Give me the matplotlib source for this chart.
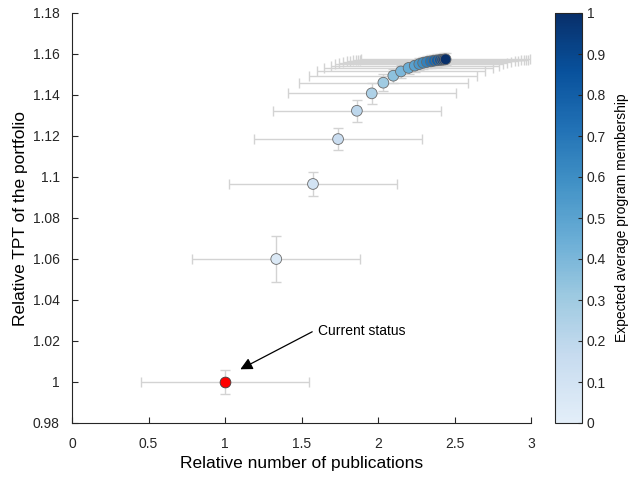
import numpy as np
import matplotlib
matplotlib.use("Agg")
import matplotlib.pyplot as plt
from matplotlib.colors import ListedColormap, Normalize
from matplotlib.cm import ScalarMappable

plt.rcParams['font.family'] = ['Liberation Sans', 'DejaVu Sans']

# current status point
cur_x = 1.0
cur_y = 1.0
cur_xerr = 0.55
cur_yerr = 0.006

# portfolio points (membership increasing)
membership = [0.05, 0.10, 0.15, 0.20, 0.25, 0.30, 0.35, 0.40, 0.45, 0.50,
              0.55, 0.60, 0.65, 0.70, 0.75, 0.80, 0.85, 0.90, 0.95, 1.00]
pub = [1.335, 1.575, 1.739, 1.862, 1.959, 2.035, 2.100, 2.150, 2.200, 2.240,
       2.270, 2.295, 2.320, 2.345, 2.365, 2.385, 2.405, 2.420, 2.432, 2.442]
tpt = [1.0600, 1.0966, 1.1185, 1.1323, 1.1408, 1.1460, 1.1494, 1.1515, 1.1532, 1.1543,
       1.1551, 1.1557, 1.1561, 1.1564, 1.1567, 1.1569, 1.1571, 1.1572, 1.1573, 1.1574]
pub_err = [0.55] * 20
tpt_err = [0.011, 0.006, 0.0055, 0.0053, 0.005, 0.004, 0.0035, 0.003, 0.003, 0.003,
           0.003, 0.003, 0.003, 0.003, 0.003, 0.003, 0.003, 0.003, 0.003, 0.003]

xticks = [0, 0.5, 1, 1.5, 2, 2.5, 3]
yticks = [0.98, 1.0, 1.02, 1.04, 1.06, 1.08, 1.1, 1.12, 1.14, 1.16, 1.18]
cticks = [0, 0.1, 0.2, 0.3, 0.4, 0.5, 0.6, 0.7, 0.8, 0.9, 1.0]

cmap = ListedColormap(plt.cm.Blues(np.linspace(0.1, 1.0, 256)))
norm = Normalize(0, 1)

fig = plt.figure(figsize=(6.32, 4.78), dpi=100)
ax = fig.add_axes([72 / 632, 55 / 478, 459 / 632, 410 / 478])

err_col = "#d3d3d3"
ax.errorbar(cur_x, cur_y, xerr=cur_xerr, yerr=cur_yerr, fmt="none",
            ecolor=err_col, elinewidth=1.0, capsize=3.5, capthick=1.0, zorder=1)
ax.errorbar(pub, tpt, xerr=pub_err, yerr=tpt_err, fmt="none",
            ecolor=err_col, elinewidth=1.0, capsize=3.5, capthick=1.0, zorder=1)

ax.scatter(pub, tpt, c=membership, cmap=cmap, norm=norm, s=60,
           edgecolors="#6a6a6a", linewidths=0.6, zorder=3)
ax.scatter([cur_x], [cur_y], c="red", s=60, edgecolors="#404040",
           linewidths=0.6, zorder=4)

ax.annotate("", xy=(1.1, 1.0062), xytext=(1.57, 1.0245),
            arrowprops=dict(arrowstyle="-|>", color="black", lw=0.9,
                            mutation_scale=18, shrinkA=0, shrinkB=0))
ax.text(1.61, 1.0249, "Current status", fontsize=10, va="center", ha="left")

ax.set_xlim(0, 3)
ax.set_ylim(0.98, 1.18)
ax.set_xticks(xticks)
ax.set_xticklabels(["%g" % v for v in xticks])
ax.set_yticks(yticks)
ax.set_yticklabels(["%g" % v for v in yticks])
ax.spines["top"].set_visible(False)
ax.spines["right"].set_visible(False)
for s in ["left", "bottom"]:
    ax.spines[s].set_color("#262626")
    ax.spines[s].set_linewidth(0.8)
ax.tick_params(direction="in", length=4, width=0.8, labelsize=10,
               colors="#262626")
ax.tick_params(axis="x", pad=10)
ax.tick_params(axis="y", pad=9)
ax.set_xlabel("Relative number of publications", fontsize=12.5, labelpad=4)
ax.set_ylabel("Relative TPT of the portfolio", fontsize=12.5, labelpad=3)

cax = fig.add_axes([555 / 632, 55 / 478, 27 / 632, 410 / 478])
cb = fig.colorbar(ScalarMappable(norm=norm, cmap=cmap), cax=cax)
cb.set_ticks(cticks)
cb.set_ticklabels(["%g" % v for v in cticks])
cb.ax.tick_params(direction="in", length=3, width=0.8, labelsize=10,
                  colors="#262626")
cb.outline.set_edgecolor("#262626")
cb.outline.set_linewidth(0.8)
cb.set_label("Expected average program membership", fontsize=10, labelpad=6)

fig.savefig("out.png", dpi=100)
